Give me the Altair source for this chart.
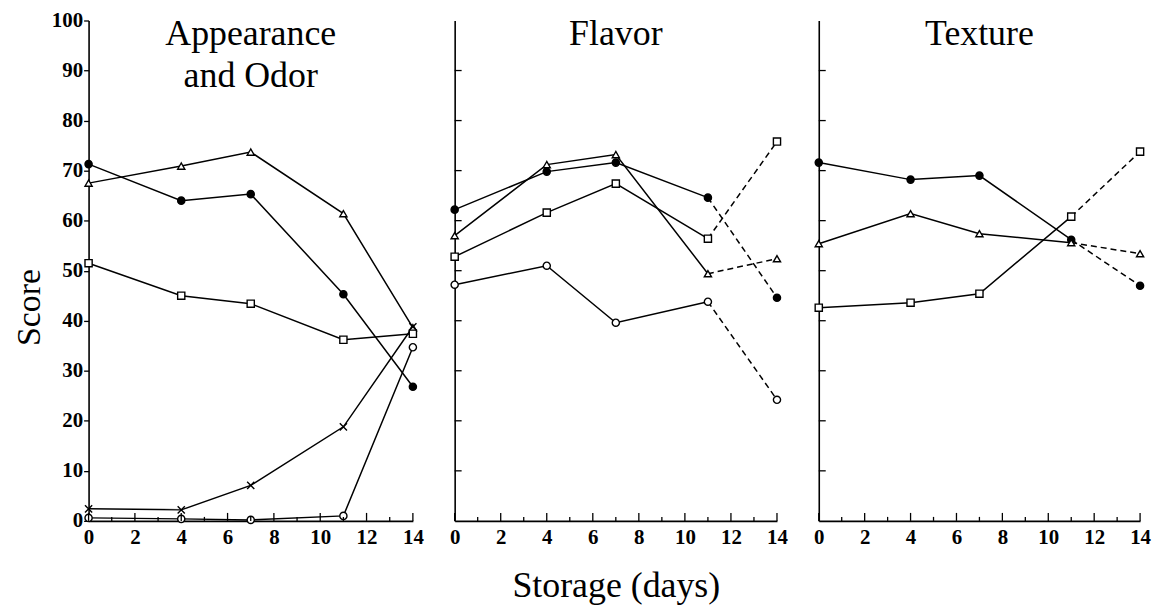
import altair as alt
import pandas as pd

# ---------------- data ----------------
days = [0, 4, 7, 11, 14]

series_names = ["filled circle", "open triangle", "open square", "cross", "open circle"]
series_shapes = ["circle", "triangle-up", "square", "M-1,-1L1,1M-1,1L1,-1", "circle"]
series_fills = ["black", "white", "white", "white", "white"]

# Appearance and Odor
appearance_filled_circle = [71.3, 64.0, 65.3, 45.3, 26.8]
appearance_open_triangle = [67.5, 70.9, 73.7, 61.4, 38.6]
appearance_open_square = [51.5, 45.0, 43.4, 36.2, 37.4]
appearance_cross = [2.4, 2.2, 7.1, 18.8, 38.8]
appearance_open_circle = [0.6, 0.4, 0.2, 1.0, 34.7]

# Flavor
flavor_filled_circle = [62.2, 69.8, 71.6, 64.6, 44.6]
flavor_open_triangle = [57.0, 71.2, 73.2, 49.4, 52.4]
flavor_open_square = [52.8, 61.6, 67.4, 56.4, 75.8]
flavor_open_circle = [47.2, 51.0, 39.6, 43.8, 24.2]

# Texture
texture_filled_circle = [71.6, 68.2, 69.0, 56.2, 47.0]
texture_open_triangle = [55.4, 61.4, 57.4, 55.6, 53.4]
texture_open_square = [42.6, 43.6, 45.4, 60.8, 73.8]

panel_names = ["Appearance and Odor", "Flavor", "Texture"]
panel_title_lines = ["Appearance\nand Odor", "Flavor", "Texture"]

y_label_values = [0, 10, 20, 30, 40, 50, 60, 70, 80, 90, 100]
inner_y_tick_values = [10, 20, 30, 40, 50, 60, 70, 80, 90]
x_label_values = [0, 2, 4, 6, 8, 10, 12, 14]
x_minor_tick_values = [1, 3, 5, 7, 9, 11, 13]

x_domain = [0, 14]
y_domain = [0, 100]

# ---------------- table ----------------
panel_series = {
    "Appearance and Odor": [
        ("filled circle", appearance_filled_circle),
        ("open triangle", appearance_open_triangle),
        ("open square", appearance_open_square),
        ("cross", appearance_cross),
        ("open circle", appearance_open_circle),
    ],
    "Flavor": [
        ("filled circle", flavor_filled_circle),
        ("open triangle", flavor_open_triangle),
        ("open square", flavor_open_square),
        ("open circle", flavor_open_circle),
    ],
    "Texture": [
        ("filled circle", texture_filled_circle),
        ("open triangle", texture_open_triangle),
        ("open square", texture_open_square),
    ],
}

rows = []
for pname, lst in panel_series.items():
    for sname, vals in lst:
        for d, v in zip(days, vals):
            rows.append({"panel": pname, "series": sname, "day": d, "score": v})
data = pd.DataFrame(rows)

FONT = "Liberation Serif"
WIDTHS = [326, 324, 323]
HEIGHT = 503


def make_panel(i):
    pname = panel_names[i]
    d = data[data.panel == pname]

    x_axis_kw = dict(values=x_label_values, ticks=False, labelPadding=6,
                     labelFlush=False, labelOverlap=False, grid=False)
    if i == 1:
        x_axis_kw.update(title="Storage (days)", titleFontSize=36, titlePadding=21)
    else:
        x_axis_kw.update(title=None)

    if i == 0:
        y_axis = alt.Axis(values=y_label_values, tickSize=5, labelPadding=1,
                          labelFlush=False, labelOverlap=False, grid=False,
                          title="Score", titleFontSize=34, titlePadding=5, titleY=288)
    else:
        y_axis = alt.Axis(labels=False, ticks=False, grid=False, title=None)

    x = alt.X("day:Q", scale=alt.Scale(domain=x_domain, nice=False, zero=False),
              axis=alt.Axis(**x_axis_kw))
    y = alt.Y("score:Q", scale=alt.Scale(domain=y_domain, nice=False), axis=y_axis)

    layers = []
    solid_data = d if i == 0 else d[d.day <= 11]
    layers.append(alt.Chart(solid_data).mark_line(color="black", strokeWidth=1.5)
                  .encode(x=x, y=y, detail="series:N"))
    if i > 0:
        layers.append(alt.Chart(d[d.day >= 11]).mark_line(color="black", strokeWidth=1.5,
                                                          strokeDash=[6, 4])
                      .encode(x=x, y=y, detail="series:N"))
    layers.append(alt.Chart(d).mark_point(stroke="black", strokeWidth=1.4, size=52,
                                          opacity=1)
                  .encode(x=x, y=y,
                          shape=alt.Shape("series:N", scale=alt.Scale(domain=series_names, range=series_shapes), legend=None),
                          fill=alt.Fill("series:N", scale=alt.Scale(domain=series_names, range=series_fills), legend=None)))

    # inward x ticks
    major = pd.DataFrame({"day": x_label_values, "score": [y_domain[0]] * len(x_label_values)})
    minor = pd.DataFrame({"day": x_minor_tick_values, "score": [y_domain[0]] * len(x_minor_tick_values)})
    layers.append(alt.Chart(major).mark_tick(orient="vertical", size=8, thickness=1.3,
                                             color="black", opacity=1, yOffset=-4)
                  .encode(x=x, y=y))
    layers.append(alt.Chart(minor).mark_tick(orient="vertical", size=4, thickness=1.3,
                                             color="black", opacity=1, yOffset=-2)
                  .encode(x=x, y=y))
    if i > 0:
        inner = pd.DataFrame({"day": [x_domain[0]] * len(inner_y_tick_values),
                              "score": inner_y_tick_values})
        layers.append(alt.Chart(inner).mark_tick(orient="horizontal", size=7, thickness=1.3,
                                                 color="black", opacity=1, xOffset=3.5)
                      .encode(x=x, y=y))

    title_df = pd.DataFrame({"day": [(x_domain[0] + x_domain[1]) / 2],
                             "score": [y_domain[1]],
                             "label": [panel_title_lines[i]]})
    layers.append(alt.Chart(title_df).mark_text(font=FONT, fontSize=36, color="black",
                                                baseline="top", align="center", dy=-3,
                                                lineBreak="\n", lineHeight=42)
                  .encode(x=x, y=y, text="label:N"))

    return alt.layer(*layers).properties(width=WIDTHS[i], height=HEIGHT)


chart = alt.hconcat(make_panel(0), make_panel(1), make_panel(2),
                    spacing=42, bounds="flush").properties(
    padding={"left": 4, "top": 0, "right": 5, "bottom": 0}
).configure_view(stroke=None).configure_axis(
    domainColor="black", domainWidth=1.6, labelColor="black", labelFont=FONT,
    labelFontSize=21, labelFontWeight="bold", titleFont=FONT, titleColor="black",
    titleFontWeight="normal", tickColor="black", tickWidth=1.3
)

chart.save("out.html", embed_options={"renderer": "svg", "actions": False})
